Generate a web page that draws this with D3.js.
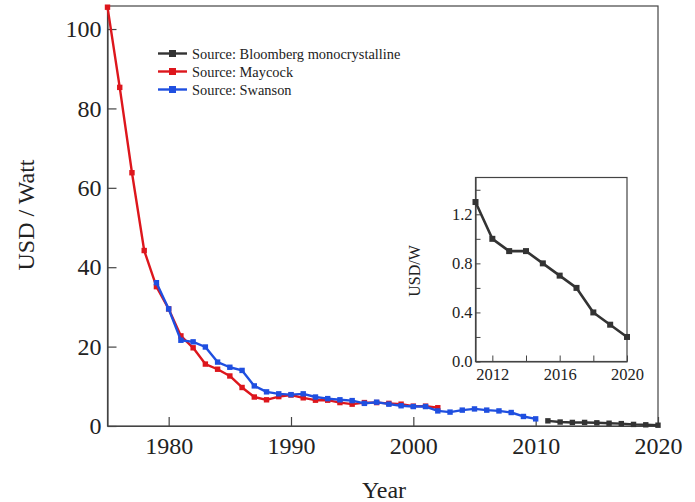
<!DOCTYPE html>
<html>
<head>
<meta charset="utf-8">
<script src="https://cdn.jsdelivr.net/npm/d3@7"></script>
<style>
  html, body { margin: 0; padding: 0; background: #fff; }
  svg { display: block; font-family: "Liberation Serif", "Times New Roman", serif; }
</style>
</head>
<body>
<svg id="chart" width="695" height="502"></svg>
<script>
// ---- Data ----
const maycockYears = d3.range(1975, 2003);
const maycockValues = [105.5, 85.3, 63.8, 44.2, 35.1, 29.5, 22.7, 19.7, 15.6, 14.3, 12.6, 9.7, 7.3, 6.6,
  7.4, 7.8, 7.1, 6.5, 6.5, 5.9, 5.5, 5.9, 5.9, 5.7, 5.5, 5.0, 5.0, 4.6];
const swansonYears = d3.range(1979, 2011);
const swansonValues = [36.1, 29.5, 21.6, 21.2, 19.9, 16.1, 14.8, 14.0, 10.1, 8.6, 8.1, 7.9, 8.1, 7.3, 6.9,
  6.6, 6.4, 5.7, 6.0, 5.5, 5.1, 4.9, 4.9, 3.8, 3.5, 4.0, 4.3, 4.0, 3.8, 3.4, 2.4, 1.8];
const bloombergYears = d3.range(2011, 2021);
const bloombergValues = [1.3, 1.0, 0.9, 0.9, 0.8, 0.7, 0.6, 0.4, 0.3, 0.2];

const mainXTicks = [1980, 1990, 2000, 2010, 2020];
const mainYTicks = [0, 20, 40, 60, 80, 100];
const insetXTicks = [2012, 2014, 2016, 2018, 2020];
const insetXLabels = [2012, 2016, 2020];
const insetYTicks = [0, 0.2, 0.4, 0.6, 0.8, 1.0, 1.2, 1.4];
const insetYLabels = [0, 0.4, 0.8, 1.2];

const legendLabels = ["Source: Bloomberg monocrystalline", "Source: Maycock", "Source: Swanson"];
const colors = ["#333333", "#dd161c", "#1f4fe0"];

// ---- Layout ----
const svg = d3.select("#chart");
const M = { left: 107.5, right: 658, top: 6, bottom: 426 };
const x = d3.scaleLinear().domain([1975, 2020]).range([M.left, M.right]);
const y = d3.scaleLinear().domain([0, 105.8]).range([M.bottom, M.top]);
const axisColor = "#444";
const serif = "'Liberation Serif', 'Times New Roman', serif";

function zip(xs, vs) { return xs.map((d, i) => ({ x: d, y: vs[i] })); }

// frame
svg.append("rect").attr("x", M.left).attr("y", M.top)
  .attr("width", M.right - M.left).attr("height", M.bottom - M.top)
  .attr("fill", "none").attr("stroke", axisColor).attr("stroke-width", 1.2);

// axes (ticks inward)
const gx = svg.append("g").attr("transform", `translate(0,${M.bottom})`)
  .call(d3.axisBottom(x).tickValues(mainXTicks).tickFormat(d3.format("d")).tickSizeInner(-9).tickSizeOuter(0).tickPadding(11));
const gy = svg.append("g").attr("transform", `translate(${M.left},0)`)
  .call(d3.axisLeft(y).tickValues(mainYTicks).tickSizeInner(-9).tickSizeOuter(0).tickPadding(6));
[gx, gy].forEach(g => {
  g.select(".domain").attr("stroke", axisColor).attr("stroke-width", 1.2);
  g.selectAll(".tick line").attr("stroke", axisColor).attr("stroke-width", 1.2);
  g.selectAll(".tick text").attr("fill", "#222").style("font-size", "24px").style("font-family", serif);
});

// axis titles
svg.append("text").attr("x", 384).attr("y", 498).attr("text-anchor", "middle")
  .style("font-size", "24px").attr("fill", "#222").text("Year");
svg.append("text").attr("transform", "translate(34,215) rotate(-90)").attr("text-anchor", "middle")
  .style("font-size", "24px").attr("fill", "#222").text("USD / Watt");

// series
const line = d3.line().x(d => x(d.x)).y(d => y(d.y));
const series = [
  zip(bloombergYears, bloombergValues),
  zip(maycockYears, maycockValues),
  zip(swansonYears, swansonValues)
];
series.forEach((s, i) => {
  svg.append("path").datum(s).attr("d", line).attr("fill", "none")
    .attr("stroke", colors[i]).attr("stroke-width", 2.4).attr("stroke-linejoin", "round");
  svg.append("g").selectAll("rect").data(s).join("rect")
    .attr("x", d => x(d.x) - 2.7).attr("y", d => y(d.y) - 2.7)
    .attr("width", 5.4).attr("height", 5.4).attr("fill", colors[i]);
});

// legend
const lg = svg.append("g");
legendLabels.forEach((lab, i) => {
  const yy = 53.5 + i * 18;
  lg.append("line").attr("x1", 158).attr("x2", 187).attr("y1", yy).attr("y2", yy)
    .attr("stroke", colors[i]).attr("stroke-width", 2.4);
  lg.append("rect").attr("x", 172.5 - 3.5).attr("y", yy - 3.5).attr("width", 7).attr("height", 7).attr("fill", colors[i]);
  lg.append("text").attr("x", 192).attr("y", yy + 5).style("font-size", "14.4px").attr("fill", "#222").text(lab);
});

// ---- Inset ----
const I = { left: 475.5, right: 627, top: 177.5, bottom: 361.5 };
const xi = d3.scaleLinear().domain([2011, 2020]).range([I.left, I.right]);
const yi = d3.scaleLinear().domain([0, 1.5]).range([I.bottom, I.top]);
const ins = svg.append("g");
ins.append("rect").attr("x", I.left).attr("y", I.top).attr("width", I.right - I.left).attr("height", I.bottom - I.top)
  .attr("fill", "#fff").attr("stroke", axisColor).attr("stroke-width", 1.2);
const gxi = ins.append("g").attr("transform", `translate(0,${I.bottom})`)
  .call(d3.axisBottom(xi).tickValues(insetXTicks)
    .tickFormat(d => insetXLabels.includes(d) ? d3.format("d")(d) : "")
    .tickSizeInner(-6).tickSizeOuter(0).tickPadding(7));
const gyi = ins.append("g").attr("transform", `translate(${I.left},0)`)
  .call(d3.axisLeft(yi).tickValues(insetYTicks)
    .tickFormat(d => insetYLabels.some(v => Math.abs(v - d) < 1e-9) ? d3.format(".1f")(d) : "")
    .tickSizeInner(-5).tickSizeOuter(0).tickPadding(3));
[gxi, gyi].forEach(g => {
  g.select(".domain").attr("stroke", axisColor).attr("stroke-width", 1.2);
  g.selectAll(".tick line").attr("stroke", axisColor).attr("stroke-width", 1);
  g.selectAll(".tick text").attr("fill", "#222").style("font-size", "16.5px").style("font-family", serif);
});
ins.append("text").attr("transform", "translate(420,271) rotate(-90)").attr("text-anchor", "middle")
  .style("font-size", "16px").attr("fill", "#222").text("USD/W");
const lineI = d3.line().x(d => xi(d.x)).y(d => yi(d.y));
const bs = zip(bloombergYears, bloombergValues);
ins.append("path").datum(bs).attr("d", lineI).attr("fill", "none")
  .attr("stroke", colors[0]).attr("stroke-width", 2.6).attr("stroke-linejoin", "round");
ins.append("g").selectAll("rect").data(bs).join("rect")
  .attr("x", d => xi(d.x) - 3).attr("y", d => yi(d.y) - 3)
  .attr("width", 6).attr("height", 6).attr("fill", colors[0]);
</script>
</body>
</html>
